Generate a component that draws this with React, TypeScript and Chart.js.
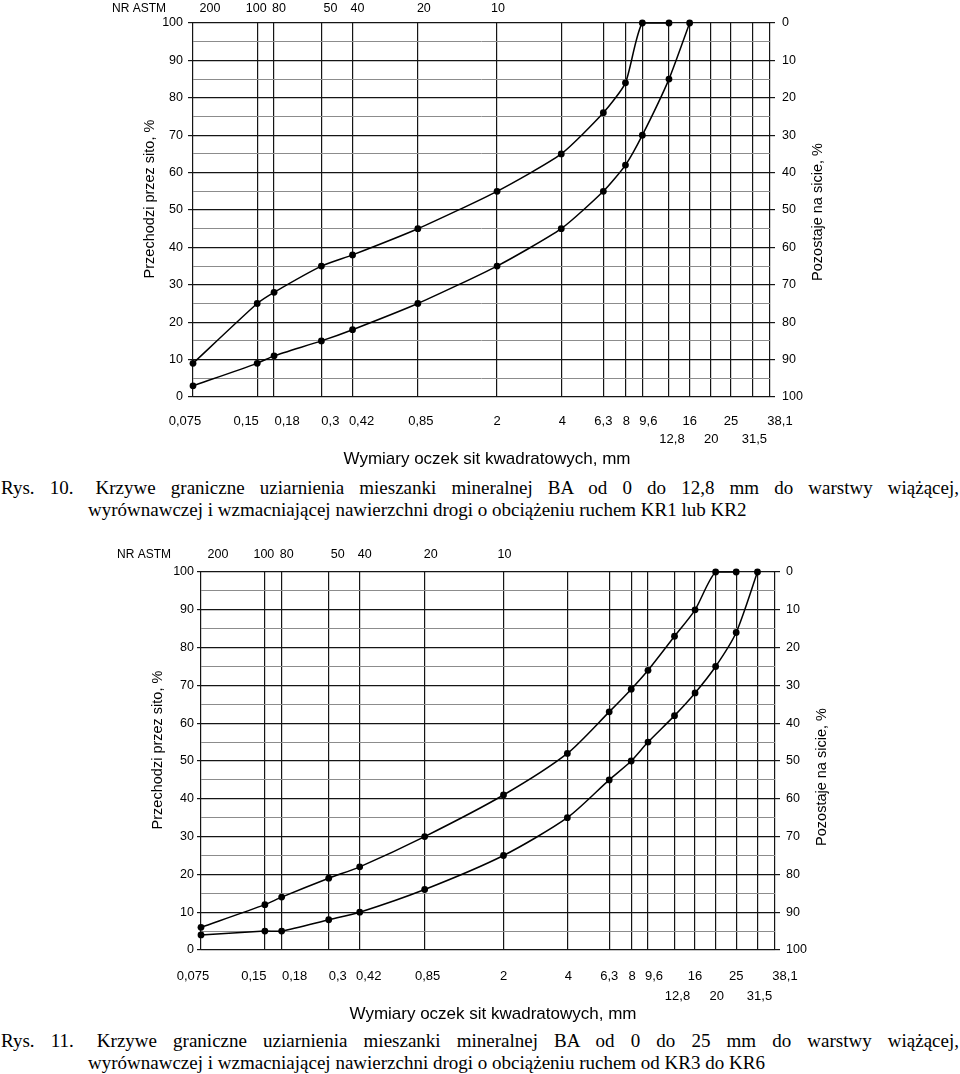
import React, { useEffect, useRef } from 'react';
import { Chart, registerables } from 'chart.js';

Chart.register(...registerables);

// ---------- data ----------
const SIEVES = [0.075, 0.15, 0.18, 0.3, 0.42, 0.85, 2, 4, 6.3, 8, 9.6, 12.8, 16, 20, 25, 31.5, 38.1];
const SIEVE_LABELS = ['0,075', '0,15', '0,18', '0,3', '0,42', '0,85', '2', '4', '6,3', '8', '9,6', '12,8', '16', '20', '25', '31,5', '38,1'];
const SECOND_ROW_SIEVES = [12.8, 20, 31.5];
const ASTM_SIEVES = [0.075, 0.15, 0.18, 0.3, 0.42, 0.85, 2];
const ASTM_LABELS = ['200', '100', '80', '50', '40', '20', '10'];

// Rys. 10 (BA 0-12,8 mm)
const FIG10_UPPER_X = [0.075, 0.15, 0.18, 0.3, 0.42, 0.85, 2, 4, 6.3, 8, 9.6, 12.8];
const FIG10_UPPER_Y = [9, 25, 28, 35, 38, 45, 55, 65, 76, 84, 100, 100];
const FIG10_LOWER_X = [0.075, 0.15, 0.18, 0.3, 0.42, 0.85, 2, 4, 6.3, 8, 9.6, 12.8, 16];
const FIG10_LOWER_Y = [3, 9, 11, 15, 18, 25, 35, 45, 55, 62, 70, 85, 100];

// Rys. 11 (BA 0-25 mm)
const FIG11_UPPER_X = [0.075, 0.15, 0.18, 0.3, 0.42, 0.85, 2, 4, 6.3, 8, 9.6, 12.8, 16, 20, 25];
const FIG11_UPPER_Y = [6, 12, 14, 19, 22, 30, 41, 52, 63, 69, 74, 83, 90, 100, 100];
const FIG11_LOWER_X = [0.075, 0.15, 0.18, 0.3, 0.42, 0.85, 2, 4, 6.3, 8, 9.6, 12.8, 16, 20, 25, 31.5];
const FIG11_LOWER_Y = [4, 5, 5, 8, 10, 16, 25, 35, 45, 50, 55, 62, 68, 75, 84, 100];

const LEFT_TITLE = 'Przechodzi przez sito, %';
const RIGHT_TITLE = 'Pozostaje na sicie, %';
const X_TITLE = 'Wymiary oczek sit kwadratowych, mm';
const ASTM_TITLE = 'NR ASTM';

const CAP10_LABEL = 'Rys. 10.';
const CAP10_LINE1 = 'Krzywe graniczne uziarnienia mieszanki mineralnej BA od 0 do 12,8 mm do warstwy wiążącej,';
const CAP10_LINE2 = 'wyrównawczej i wzmacniającej nawierzchni drogi o obciążeniu ruchem KR1 lub KR2';
const CAP11_LABEL = 'Rys. 11.';
const CAP11_LINE1 = 'Krzywe graniczne uziarnienia mieszanki mineralnej BA od 0 do 25 mm do warstwy wiążącej,';
const CAP11_LINE2 = 'wyrównawczej i wzmacniającej nawierzchni drogi o obciążeniu ruchem od KR3 do KR6';

// ---------- layout / style ----------
const SANS = '"Liberation Sans", Arial, sans-serif';
const SERIF = '"Liberation Serif", "Times New Roman", serif';
const MAJOR = '#151515';
const MINOR = '#8c8c8c';
// horizontal nudges (px) of the printed sieve labels relative to their grid line
const SIEVE_LABEL_SHIFT = [-8, -11, 13, 9, 9, 3, 0, 1, 0, 1, 6, 3, 0, 1, 0, 2, 10];
const ASTM_LABEL_SHIFT = [17, -1, 5, 9, 5, 6, 1];

type Layout = {
  canvasTop: number; canvasH: number;
  left: number; right: number; top: number; bottom: number;
  row1Y: number; row2Y: number; astmY: number; astmX: number;
  yTick: number; yPad: number; y2Tick: number; y2Pad: number;
  leftTitle: [number, number]; rightTitle: [number, number]; xTitle: [number, number];
  tension: number;
};

const FIG10_LAYOUT: Layout = {
  canvasTop: 0, canvasH: 475,
  left: 193, right: 770, top: 23, bottom: 397,
  row1Y: 421, row2Y: 439.5, astmY: 8.5, astmX: 112,
  yTick: 5, yPad: 5, y2Tick: 5, y2Pad: 7,
  leftTitle: [150, 199], rightTitle: [818, 212], xTitle: [487, 459],
  tension: 0.2,
};

const FIG11_LAYOUT: Layout = {
  canvasTop: 540, canvasH: 490,
  left: 201, right: 775, top: 32, bottom: 410,
  row1Y: 436, row2Y: 456, astmY: 15, astmX: 117,
  yTick: 4, yPad: 3, y2Tick: 5, y2Pad: 6,
  leftTitle: [158, 210], rightTitle: [822, 237], xTitle: [493, 474],
  tension: 0.25,
};

type Props = {
  upperX: number[]; upperY: number[]; lowerX: number[]; lowerY: number[]; L: Layout;
};

function GradingChart({ upperX, upperY, lowerX, lowerY, L }: Props) {
  const ref = useRef<HTMLCanvasElement>(null);

  useEffect(() => {
    const canvas = ref.current;
    if (!canvas) return;
    const toPts = (xs: number[], ys: number[]) => xs.map((x, i) => ({ x, y: ys[i] }));
    const lineDs = (pts: { x: number; y: number }[]) => ({
      data: pts,
      borderColor: '#000',
      borderWidth: 1.5,
      pointRadius: 3.4,
      pointBackgroundColor: '#000',
      pointBorderColor: '#000',
      pointBorderWidth: 0,
      tension: L.tension,
      fill: false,
      clip: 6,
      xAxisID: 'x',
      yAxisID: 'y',
    });

    const extraText = {
      id: 'extraText',
      afterDraw(chart: any) {
        const ctx = chart.ctx as CanvasRenderingContext2D;
        const xs = chart.scales.x;
        ctx.save();
        ctx.fillStyle = '#000';
        ctx.textBaseline = 'middle';

        // sieve size labels (two rows)
        ctx.font = `13px ${SANS}`;
        ctx.textAlign = 'center';
        SIEVES.forEach((v, i) => {
          const px = xs.getPixelForValue(v) + SIEVE_LABEL_SHIFT[i];
          const y = SECOND_ROW_SIEVES.includes(v) ? L.row2Y : L.row1Y;
          ctx.fillText(SIEVE_LABELS[i], px, y);
        });

        // ASTM sieve numbers
        ctx.font = `12.5px ${SANS}`;
        ASTM_SIEVES.forEach((v, i) => {
          ctx.fillText(ASTM_LABELS[i], xs.getPixelForValue(v) + ASTM_LABEL_SHIFT[i], L.astmY);
        });
        ctx.font = `12px ${SANS}`;
        ctx.textAlign = 'left';
        ctx.fillText(ASTM_TITLE, L.astmX, L.astmY);

        // axis titles
        ctx.font = `14.5px ${SANS}`;
        ctx.textAlign = 'center';
        const rotated: [string, [number, number]][] = [[LEFT_TITLE, L.leftTitle], [RIGHT_TITLE, L.rightTitle]];
        for (const [text, [x, y]] of rotated) {
          ctx.save();
          ctx.translate(x, y);
          ctx.rotate(-Math.PI / 2);
          ctx.fillText(text, 0, 0);
          ctx.restore();
        }
        ctx.font = `17px ${SANS}`;
        ctx.fillText(X_TITLE, L.xTitle[0], L.xTitle[1]);
        ctx.restore();
      },
    };

    const tickFont = { family: SANS, size: 12.5 };
    const isMajor = (c: any) => !(c && c.tick && c.tick.value % 10 !== 0);

    const chart = new Chart(canvas, {
      type: 'line',
      data: { datasets: [lineDs(toPts(upperX, upperY)) as any, lineDs(toPts(lowerX, lowerY)) as any] },
      options: {
        responsive: false,
        animation: false,
        devicePixelRatio: 1,
        events: [],
        layout: { padding: { top: L.top, left: 0, right: 0, bottom: 0 } },
        plugins: { legend: { display: false }, tooltip: { enabled: false } },
        scales: {
          x: {
            type: 'logarithmic',
            position: 'bottom',
            min: SIEVES[0],
            max: SIEVES[SIEVES.length - 1],
            afterBuildTicks: (s: any) => { s.ticks = SIEVES.map((v) => ({ value: v })); },
            afterFit: (s: any) => { s.height = L.canvasH - L.bottom; },
            ticks: { display: false, autoSkip: false },
            grid: { color: MAJOR, lineWidth: 1.2, drawTicks: false },
            border: { display: false },
          },
          y: {
            type: 'linear',
            position: 'left',
            min: 0,
            max: 100,
            afterFit: (s: any) => { s.width = L.left; },
            ticks: {
              stepSize: 5,
              autoSkip: false,
              padding: L.yPad,
              color: '#000',
              font: tickFont,
              callback: (v: any) => (Number(v) % 10 === 0 ? String(v) : ''),
            },
            grid: {
              color: (c: any) => (isMajor(c) ? MAJOR : MINOR),
              lineWidth: (c: any) => (isMajor(c) ? 1.2 : 1),
              tickColor: (c: any) => (isMajor(c) ? MAJOR : 'rgba(0,0,0,0)'),
              tickLength: L.yTick,
            },
            border: { display: false },
          },
          y2: {
            type: 'linear',
            position: 'right',
            min: 0,
            max: 100,
            reverse: true,
            afterFit: (s: any) => { s.width = 960 - L.right; },
            ticks: { stepSize: 10, autoSkip: false, padding: L.y2Pad, color: '#000', font: tickFont },
            grid: { drawOnChartArea: false, color: MAJOR, tickLength: L.y2Tick, lineWidth: 1.2 },
            border: { display: false },
          },
        },
      } as any,
      plugins: [extraText],
    });
    return () => chart.destroy();
  }, []);

  return (
    <canvas
      ref={ref}
      width={960}
      height={L.canvasH}
      style={{ position: 'absolute', left: 0, top: L.canvasTop, width: 960, height: L.canvasH }}
    />
  );
}

const capBase: React.CSSProperties = {
  position: 'absolute',
  fontFamily: SERIF,
  fontSize: 19,
  lineHeight: '22px',
  color: '#000',
  whiteSpace: 'nowrap',
};

function Caption({ label, line1, line2, top }: { label: string; line1: string; line2: string; top: number }) {
  return (
    <>
      <div
        style={{
          ...capBase,
          left: 1,
          top,
          width: 958,
          whiteSpace: 'normal',
          textAlign: 'justify',
          textAlignLast: 'justify' as any,
        }}
      >
        {label}{' '}
        <span style={{ display: 'inline-block', width: 7 }} />
        {line1}
      </div>
      <div style={{ ...capBase, left: 88, top: top + 22 }}>{line2}</div>
    </>
  );
}

export default function App() {
  return (
    <div style={{ position: 'absolute', left: 0, top: 0, width: 960, height: 1074, overflow: 'hidden', background: '#fff' }}>
      <GradingChart upperX={FIG10_UPPER_X} upperY={FIG10_UPPER_Y} lowerX={FIG10_LOWER_X} lowerY={FIG10_LOWER_Y} L={FIG10_LAYOUT} />
      <Caption label={CAP10_LABEL} line1={CAP10_LINE1} line2={CAP10_LINE2} top={477} />
      <GradingChart upperX={FIG11_UPPER_X} upperY={FIG11_UPPER_Y} lowerX={FIG11_LOWER_X} lowerY={FIG11_LOWER_Y} L={FIG11_LAYOUT} />
      <Caption label={CAP11_LABEL} line1={CAP11_LINE1} line2={CAP11_LINE2} top={1030} />
    </div>
  );
}
